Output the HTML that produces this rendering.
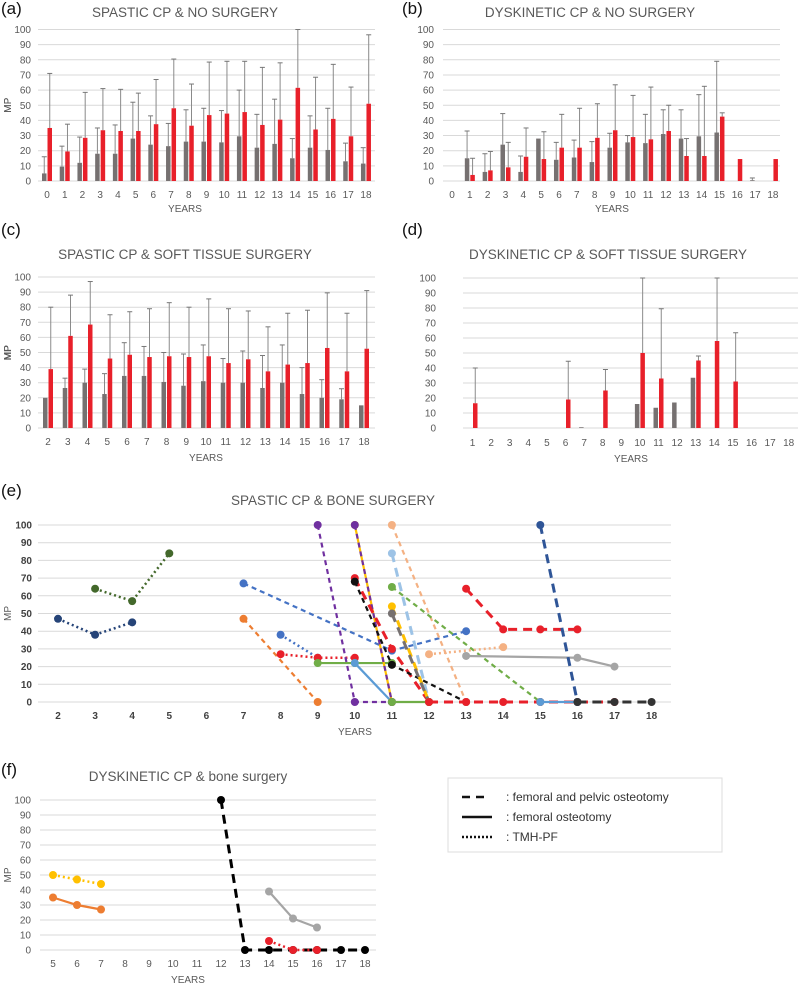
<!DOCTYPE html>
<html><head><meta charset="utf-8"><style>
html,body{margin:0;padding:0;background:#fff;}
svg{display:block;font-family:"Liberation Sans",sans-serif;}
</style></head><body>
<svg id="fig" width="800" height="985" viewBox="0 0 800 985" xmlns="http://www.w3.org/2000/svg">
<g id="legend">
<rect x="448" y="778" width="274" height="74" fill="#fff" stroke="#ddd"/>
<line x1="462" y1="797" x2="490" y2="797" stroke="#111" stroke-width="2.5" stroke-dasharray="8,6"/>
<text x="506" y="801" font-size="12" fill="#333">: femoral and pelvic osteotomy</text>
<line x1="462" y1="817" x2="492" y2="817" stroke="#111" stroke-width="2.5"/>
<text x="506" y="821" font-size="12" fill="#333">: femoral osteotomy</text>
<line x1="462" y1="837" x2="492" y2="837" stroke="#111" stroke-width="2.5" stroke-dasharray="2,2"/>
<text x="506" y="841" font-size="12" fill="#333">: TMH-PF</text>
</g>
</svg>
<script>
// ---- Panel (a) data ----
const aCats = [0,1,2,3,4,5,6,7,8,9,10,11,12,13,14,15,16,17,18];
const aGray = [5,9.5,12,18,18,28,24,23,26,26,25.5,29.5,22,24.5,15,22,20.5,13,11.5];
const aGrayErr = [16,23,29,35,37,52,43,38,47,48,46.5,60,44,54,28,43,48,25,22];
const aRed = [35,19.5,28.5,33.5,33,33,37.5,48,36.5,43.5,44.5,45.5,37,40.5,61.5,34,41,29.5,51];
const aRedErr = [71,37.5,58.5,61,60.5,58,67,80.5,64,78.5,79,79,75,78,100,68.5,77,62,96.5];
// ---- Panel (b) data ----
const bCats = [0,1,2,3,4,5,6,7,8,9,10,11,12,13,14,15,16,17,18];
const bGray = [null,15,6,24,6,28,14,15.5,12.5,22,25.5,25,31,28,29.5,32,null,0.5,null];
const bGrayErr = [null,33,18,44.5,16.5,null,25.5,27,26,31.5,30,44,47,47,57,79,null,2,null];
const bRed = [null,4,7,9,16,14.5,22,22,28.5,33.5,29,27.5,33,16.5,16.5,42.5,14.5,null,14.5];
const bRedErr = [null,15,19.5,25.5,35,32.5,44,48,51,63.5,56.5,62,50,28,62.5,45,null,null,null];
// ---- Panel (c) data ----
const cCats = [2,3,4,5,6,7,8,9,10,11,12,13,14,15,16,17,18];
const cGray = [20,26.5,30,22.5,34.5,34.5,30.5,28,31,30,30,26.5,30,22.5,20,19,15];
const cGrayErr = [null,33,39,36,56.5,54,50,49,55,46,51,48,55,40,32,26,null];
const cRed = [39,61,68.5,46,48.5,47,47.5,47,47.5,43,45.5,37.5,42,43,53,37.5,52.5];
const cRedErr = [80,88,97,75,77,79,83,80,85.5,79,77.5,67,76,78,89.5,76,91];
// ---- Panel (d) data ----
const dCats = [1,2,3,4,5,6,7,8,9,10,11,12,13,14,15,16,17,18];
const dGray = [null,null,null,null,null,null,0.5,null,null,16,13.5,17,33.5,null,null,null,null,null];
const dGrayErr = [null,null,null,null,null,null,null,null,null,null,null,null,null,null,null,null,null,null];
const dRed = [16.5,null,null,null,null,19,null,25,null,50,33,null,45,58,31,null,null,null];
const dRedErr = [40,null,null,null,null,44.5,null,39,null,100,79.5,null,48,100,63.5,null,null,null];
// ---- Panel (e) data ----
const eCats = [2,3,4,5,6,7,8,9,10,11,12,13,14,15,16,17,18];
const eSeriesNames = ['navy-dotted','green-dotted','blue-dashed','orange-dashed','blue-dotted','red-dotted','green-solid','lightblue-solid','purple-dashed-1','yellow-solid','purple-dashed-2','red-dashed-1','black-dashed','peach-dashed','skyblue-dashed','green-dashed','yellow-dashed','gray-dashed','peach-dotted','gray-solid','red-dashed-2','navy-dashed','green-base','red-base','blue-base','black-base'];
const eSeriesX = [[2,3,4],[3,4,5],[7,11,13],[7,9],[8,9],[8,9,10],[9,10,11],[10,11],[9,10,11],[10,11],[10,11],[10,11,12],[10,11,13],[11,13],[11,12],[11,15],[11,12],[11,12],[12,14],[13,16,17],[13,14,15,16],[15,16],[11,12],[12,13,14,15,16,17],[15,16],[16,17,18]];
const eSeriesY = [[47,38,45],[64,57,84],[67,29,40],[47,0],[38,25],[27,25,25],[22,22,22],[22,0],[100,0,0],[100,0],[100,0],[70,30,0],[68,21,0],[100,0],[84,0],[65,0],[54,0],[50,0],[27,31],[26,25,20],[64,41,41,41],[100,0],[0,0],[0,0,0,0,0,0],[0,0],[0,0,0]];
const eColors = ['#264478','#43682B','#4472C4','#ED7D31','#4472C4','#E8202A','#70AD47','#5B9BD5','#7030A0','#FFC000','#7030A0','#E8202A','#111111','#F4B183','#9DC3E6','#70AD47','#FFC000','#767171','#F4B183','#A5A5A5','#E8202A','#2F5597','#70AD47','#E8202A','#5B9BD5','#333333'];
const eStyles = ['dot','dot','dash','dash','dot','dot','solid','solid','dash','solid','dash','bigdash','dash','dash','bigdash','dash','bigdash','bigdash','dot','solid','bigdash','bigdash','solid','bigdash','solid','bigdash'];
// ---- Panel (f) data ----
const fCats = [5,6,7,8,9,10,11,12,13,14,15,16,17,18];
const fSeriesNames = ['yellow-dotted','orange-solid','black-dashed','gray-solid','red-dotted'];
const fSeriesX = [[5,6,7],[5,6,7],[12,13,14,15,16,17,18],[14,15,16],[14,15,16]];
const fSeriesY = [[50,47,44],[35,30,27],[100,0,0,0,0,0,0],[39,21,15],[6,0,0]];
const fColors = ['#FFC000','#ED7D31','#000000','#A5A5A5','#E8202A'];
const fStyles = ['dot','solid','bigdash','solid','dot'];
const yTicks = [0,10,20,30,40,50,60,70,80,90,100];

const NS = 'http://www.w3.org/2000/svg';
const svg = document.getElementById('fig');
function mk(tag, attrs, parent){
  const el = document.createElementNS(NS, tag);
  for (const k in attrs) el.setAttribute(k, attrs[k]);
  (parent||svg).appendChild(el);
  return el;
}
function txt(x,y,s,size,fill,anchor,parent,weight){
  const t = mk('text',{x:x,y:y,'font-size':size,fill:fill,'text-anchor':anchor||'middle','font-weight':weight||'normal'},parent);
  t.textContent = s;
  return t;
}
function frame(p, g){
  const yS = v => p.y0 - (p.y0 - p.y100) * v / 100;
  const xS = c => p.xc0 + (c - p.cats[0]) * p.step;
  const lab = txt(p.lx, p.ly, p.label, 17, '#111', 'start', g);
  
  
  const tt = txt(p.tx, p.ty, p.title, 13.5, '#595959', 'middle', g);
  
  
  yTicks.forEach(v => {
    const gl = mk('line',{x1:p.gx0,x2:p.gx1,y1:yS(v),y2:yS(v),stroke:'#d9d9d9','stroke-width':1},g);
    
    
    const tl = txt(p.tickX, yS(v)+3.5, String(v), p.bold?10:10, p.bold?'#404040':'#595959', 'end', g, p.bold?'bold':'normal');
    
    
  });
  p.cats.forEach(c => {
    const xl = txt(xS(c), p.xly, String(c), 10, p.bold?'#404040':'#595959', 'middle', g, p.bold?'bold':'normal');
    
    
  });
  const yt = txt(0,0,'MP',10,'#595959','middle',g);
  yt.setAttribute('transform','translate(11,'+((p.y0+p.y100)/2)+') rotate(-90)');
  
  
  const xt = txt(p.yrX, p.yrY, 'YEARS', 10, '#595959', 'middle', g);
  
  
  return {xS, yS};
}
function barPanel(p, gray, grayErr, red, redErr){
  const g = mk('g',{});
  
  
  const {xS, yS} = frame(p, g);
  const w = 4.5;
  p.cats.forEach((c,i) => {
    const cx = xS(c);
    [[gray[i], grayErr[i], cx-5, '#767171', 'bar-gray'], [red[i], redErr[i], cx+0.5, '#E8202A', 'bar-red']].forEach(([v, e, x, col, nm]) => {
      if (v === null) return;
      if (e !== null) {
        const el = mk('line',{x1:x+w/2,x2:x+w/2,y1:yS(e),y2:yS(v),stroke:'#8a8a8a','stroke-width':1},g);
        
        
        const cap = mk('line',{x1:x+w/2-2.5,x2:x+w/2+2.5,y1:yS(e),y2:yS(e),stroke:'#777','stroke-width':1},g);
        
        
      }
      const r = mk('rect',{x:x,y:yS(v),width:w,height:yS(0)-yS(v),fill:col},g);
      
      
    });
  });
}
function dashOf(s){ return s==='dash'?'5,4':s==='bigdash'?'9,6':s==='dot'?'2,3':''; }
function linePanel(p, names, xs, ys, colors, styles){
  const g = mk('g',{});
  
  
  const {xS, yS} = frame(p, g);
  names.forEach((n,i) => {
    const pts = xs[i].map((x,j) => xS(x)+','+yS(ys[i][j])).join(' ');
    const sw = styles[i]==='bigdash'?3:styles[i]==='dot'?2.5:2.2;
    const pl = mk('polyline',{points:pts,fill:'none',stroke:colors[i],'stroke-width':sw,'stroke-dasharray':dashOf(styles[i])},g);
    
    
    xs[i].forEach((x,j) => {
      const c = mk('circle',{cx:xS(x),cy:yS(ys[i][j]),r:4,fill:colors[i]},g);
      
      
    });
  });
}
barPanel({name:'panel-a',label:'(a)',lx:1,ly:14,title:'SPASTIC CP & NO SURGERY',tx:185,ty:17,cats:aCats,xc0:47,step:17.72,y0:181,y100:29.5,gx0:38,gx1:375,tickX:31,xly:198,yrX:185,yrY:212},aGray,aGrayErr,aRed,aRedErr);
barPanel({name:'panel-b',label:'(b)',lx:402,ly:14,title:'DYSKINETIC CP & NO SURGERY',tx:590,ty:17,cats:bCats,xc0:452,step:17.83,y0:181,y100:29.5,gx0:443,gx1:780,tickX:434,xly:198,yrX:612,yrY:212},bGray,bGrayErr,bRed,bRedErr);
barPanel({name:'panel-c',label:'(c)',lx:1,ly:235,title:'SPASTIC CP & SOFT TISSUE SURGERY',tx:185,ty:259,cats:cCats,xc0:48,step:19.75,y0:428,y100:277,gx0:38,gx1:375,tickX:31,xly:445,yrX:206,yrY:461},cGray,cGrayErr,cRed,cRedErr);
barPanel({name:'panel-d',label:'(d)',lx:402,ly:235,title:'DYSKINETIC CP & SOFT TISSUE SURGERY',tx:608,ty:259,cats:dCats,xc0:472.5,step:18.6,y0:428,y100:278,gx0:463,gx1:798,tickX:436,xly:446,yrX:631,yrY:462},dGray,dGrayErr,dRed,dRedErr);
linePanel({name:'panel-e',label:'(e)',lx:1,ly:496,title:'SPASTIC CP & BONE SURGERY',tx:333,ty:505,cats:eCats,xc0:58,step:37.1,y0:702,y100:525,gx0:38,gx1:671,tickX:32,xly:719,yrX:355,yrY:735,bold:true},eSeriesNames,eSeriesX,eSeriesY,eColors,eStyles);
linePanel({name:'panel-f',label:'(f)',lx:1,ly:775,title:'DYSKINETIC CP & bone surgery',tx:188,ty:781,cats:fCats,xc0:53,step:24,y0:950,y100:800,gx0:40,gx1:376,tickX:31,xly:967,yrX:188,yrY:983},fSeriesNames,fSeriesX,fSeriesY,fColors,fStyles);
svg.appendChild(document.getElementById('legend'));
</script>
</body></html>
